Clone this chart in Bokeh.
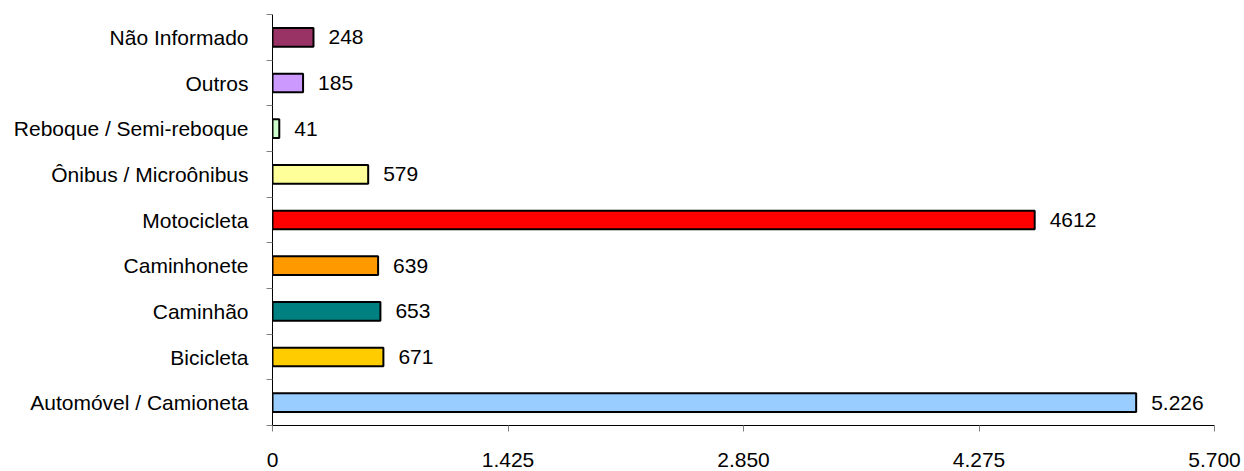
from bokeh.plotting import figure
from bokeh.models import Range1d, LinearAxis, FixedTicker, ColumnDataSource
from bokeh.core.properties import value
from bokeh.embed import file_html
from bokeh.resources import INLINE

categories = ["Automóvel / Camioneta", "Bicicleta", "Caminhão", "Caminhonete", "Motocicleta",
              "Ônibus / Microônibus", "Reboque / Semi-reboque", "Outros", "Não Informado"]
values = [5226, 671, 653, 639, 4612, 579, 41, 185, 248]
value_labels = ["5.226", "671", "653", "639", "4612", "579", "41", "185", "248"]
colors = ["#99CCFF", "#FFCC00", "#008080", "#FF9900", "#FF0000", "#FFFF99", "#CCFFCC", "#CC99FF", "#993366"]
x_ticks = [0, 1425, 2850, 4275, 5700]
x_tick_labels = ["0", "1.425", "2.850", "4.275", "5.700"]

FONT = "Liberation Sans"
FS = "21px"

n = len(categories)
centers = [i + 0.5 for i in range(n)]
src = ColumnDataSource(dict(y=centers, val=values, lab=value_labels, color=colors))

p = figure(y_range=Range1d(0, n), x_range=Range1d(x_ticks[0], x_ticks[-1]),
           frame_width=942, frame_height=411, output_backend="svg", toolbar_location=None,
           y_axis_location=None, min_border_left=272, min_border_top=14, min_border_right=30,
           min_border_bottom=0)

p.hbar(y="y", left=0, right="val", height=0.41, fill_color="color", line_color="black",
       line_width=2, source=src)
p.text(x="val", y="y", text="lab", x_offset=15, text_baseline="middle", text_align="left",
       text_font=value(FONT), text_font_size=FS, text_color="black", source=src)

# inner left axis: boundary ticks
bax = LinearAxis(ticker=FixedTicker(ticks=list(range(n + 1))))
bax.major_label_text_font_size = "0px"
bax.major_label_overrides = {i: "" for i in range(n + 1)}
bax.major_label_standoff = 0
bax.major_tick_in = 0
bax.major_tick_out = 6
bax.major_tick_line_color = "#808080"
bax.minor_tick_line_color = None
bax.axis_line_color = "black"
p.add_layout(bax, "left")

# outer left axis: category labels
cax = LinearAxis(ticker=FixedTicker(ticks=centers))
cax.major_label_overrides = {c: name for c, name in zip(centers, categories)}
cax.axis_line_color = None
cax.major_tick_line_color = None
cax.minor_tick_line_color = None
cax.major_tick_in = 0
cax.major_tick_out = 0
cax.major_label_standoff = 18
cax.major_label_text_font = FONT
cax.major_label_text_font_size = FS
cax.major_label_text_color = "black"
p.add_layout(cax, "left")

xa = p.xaxis[0]
xa.ticker = FixedTicker(ticks=x_ticks)
xa.major_label_overrides = {t: l for t, l in zip(x_ticks, x_tick_labels)}
xa.major_tick_in = 0
xa.major_tick_out = 6
xa.major_tick_line_color = "#808080"
xa.minor_tick_line_color = None
xa.axis_line_color = "black"
xa.major_label_standoff = 21
xa.major_label_text_font = FONT
xa.major_label_text_font_size = FS
xa.major_label_text_color = "black"

p.xgrid.grid_line_color = None
p.ygrid.grid_line_color = None
p.outline_line_color = None

open("out.html", "w").write(file_html(p, INLINE))
